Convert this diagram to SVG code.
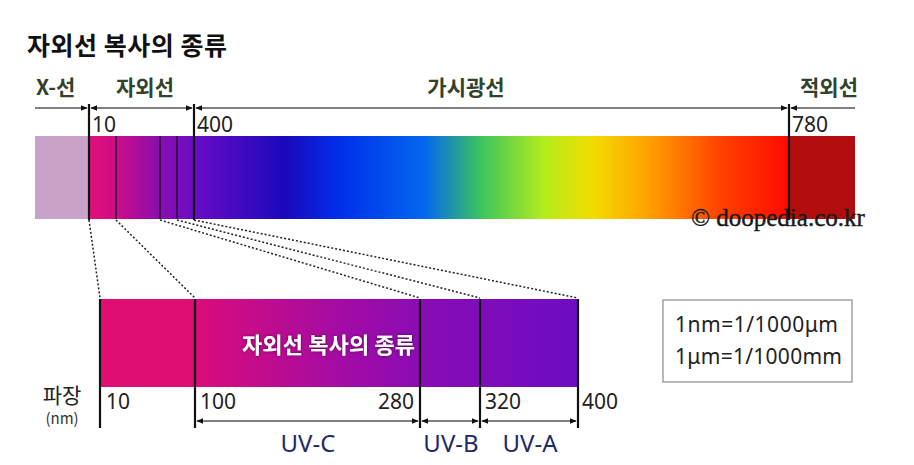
<svg xmlns="http://www.w3.org/2000/svg" width="914" height="465" viewBox="0 0 914 465">
<defs>
<style>
.kr{font-family:"Noto Sans CJK KR","Noto Sans",sans-serif}
.num{font-family:"Noto Sans","Noto Sans CJK KR",sans-serif;font-size:21px;fill:#222}
.band{font-family:"Noto Sans CJK KR",sans-serif;font-size:21px;font-weight:bold;fill:#33422a}
.uv{font-family:"Noto Sans","Noto Sans CJK KR",sans-serif;font-size:24px;fill:#1d2a66}
.tick{stroke:#111;stroke-width:2.2}
.thin{stroke:#2a0a30;stroke-width:1.5}
.dash{stroke:#222;stroke-width:1.5;stroke-dasharray:2 2;fill:none}
.arr{stroke:#555;stroke-width:1.6;fill:none;marker-start:url(#ah);marker-end:url(#ah)}
.arr1{stroke:#555;stroke-width:1.6;fill:none;marker-end:url(#ah)}
</style>
<marker id="ah" viewBox="0 0 10 10" refX="9" refY="5" markerWidth="7" markerHeight="7" orient="auto-start-reverse" markerUnits="userSpaceOnUse">
<path d="M0,1 L10,5 L0,9 z" fill="#111"/>
</marker>
<linearGradient id="spec" x1="89" y1="0" x2="789" y2="0" gradientUnits="userSpaceOnUse">
<stop offset="0" stop-color="#e20f78"/>
<stop offset="0.04" stop-color="#cc0d8a"/>
<stop offset="0.1" stop-color="#8a0eae"/>
<stop offset="0.15" stop-color="#6a0cc6"/>
<stop offset="0.28" stop-color="#1a08bc"/>
<stop offset="0.36" stop-color="#0030ec"/>
<stop offset="0.48" stop-color="#0468ee"/>
<stop offset="0.56" stop-color="#3cc45e"/>
<stop offset="0.65" stop-color="#b4ec1c"/>
<stop offset="0.72" stop-color="#f2dc00"/>
<stop offset="0.8" stop-color="#ffa000"/>
<stop offset="0.9" stop-color="#ff4200"/>
<stop offset="1" stop-color="#ff0a00"/>
</linearGradient>
<linearGradient id="uvg" x1="100" y1="0" x2="578" y2="0" gradientUnits="userSpaceOnUse">
<stop offset="0" stop-color="#e20c72"/>
<stop offset="0.2" stop-color="#da0c7a"/>
<stop offset="0.5" stop-color="#a40ca4"/>
<stop offset="0.67" stop-color="#8a0cb4"/>
<stop offset="1" stop-color="#6c0cc4"/>
</linearGradient>
<filter id="sh" x="-10%" y="-30%" width="120%" height="160%">
<feDropShadow dx="0" dy="0" stdDeviation="1.5" flood-color="#400030" flood-opacity="0.8"/>
</filter>
</defs>
<rect width="914" height="465" fill="#fff"/>

<g id="title">
<text x="27" y="55" class="kr" font-size="25" font-weight="bold" fill="#111" textLength="200" lengthAdjust="spacing">자외선 복사의 종류</text>
</g>

<g id="band-labels">
<text x="36" y="95" class="band">X-선</text>
<text x="145" y="95" class="band" text-anchor="middle">자외선</text>
<text x="466" y="95" class="band" text-anchor="middle">가시광선</text>
<text x="829" y="95" class="band" text-anchor="middle">적외선</text>
</g>

<g id="spectrum">
<rect x="35" y="136" width="54" height="83" fill="#c8a2c8"/>
<rect x="89" y="136" width="700" height="83" fill="url(#spec)"/>
<rect x="789" y="136" width="66" height="83" fill="#b20e10"/>
<line x1="116" y1="136" x2="116" y2="219" class="thin"/>
<line x1="160" y1="136" x2="160" y2="219" class="thin"/>
<line x1="177" y1="136" x2="177" y2="219" class="thin"/>
<line x1="89" y1="104" x2="89" y2="220" class="tick"/>
<line x1="194" y1="104" x2="194" y2="220" class="tick"/>
<line x1="789" y1="104" x2="789" y2="220" class="tick"/>
<text x="92" y="132" class="num">10</text>
<text x="197" y="132" class="num">400</text>
<text x="792" y="132" class="num">780</text>
<text x="691" y="226" font-family="'Liberation Serif','DejaVu Serif',serif" font-size="25" fill="#1a1a1a" stroke="#1a1a1a" stroke-width="0.4">© doopedia.co.kr</text>
</g>

<g id="connectors">
<line x1="35" y1="108" x2="87" y2="108" class="arr1"/>
<line x1="91" y1="108" x2="192" y2="108" class="arr"/>
<line x1="196" y1="108" x2="787" y2="108" class="arr"/>
<line x1="791" y1="108" x2="855" y2="108" stroke="#555" stroke-width="1.6" marker-start="url(#ah)"/>
<line x1="89" y1="220" x2="100" y2="298" class="dash"/>
<line x1="116" y1="220" x2="195" y2="298" class="dash"/>
<line x1="160" y1="220" x2="420" y2="298" class="dash"/>
<line x1="177" y1="220" x2="480" y2="298" class="dash"/>
<line x1="194" y1="220" x2="578" y2="298" class="dash"/>
<line x1="197" y1="421" x2="418" y2="421" class="arr"/>
<line x1="422" y1="421" x2="478" y2="421" class="arr"/>
<line x1="482" y1="421" x2="576" y2="421" class="arr"/>
</g>

<g id="uv-bar">
<rect x="100" y="299" width="478" height="88" fill="url(#uvg)"/>
<rect x="100" y="299" width="95" height="88" fill="#e00e72"/>
<line x1="100" y1="299" x2="100" y2="428" class="tick"/>
<line x1="195" y1="299" x2="195" y2="428" class="tick"/>
<line x1="420" y1="299" x2="420" y2="428" class="tick"/>
<line x1="480" y1="299" x2="480" y2="428" class="tick"/>
<line x1="578" y1="299" x2="578" y2="428" class="tick"/>
<text x="242" y="353" class="kr" font-size="22" font-weight="bold" fill="#fff" filter="url(#sh)" textLength="173" lengthAdjust="spacing">자외선 복사의 종류</text>
<text x="106" y="409" class="num">10</text>
<text x="200" y="409" class="num">100</text>
<text x="414" y="409" class="num" text-anchor="end">280</text>
<text x="485" y="409" class="num">320</text>
<text x="582" y="409" class="num">400</text>
</g>

<g id="axis-label">
<text x="62" y="403" class="kr" font-size="21" fill="#222" text-anchor="middle">파장</text>
<text x="62" y="424" class="kr" font-size="15" fill="#333" text-anchor="middle">(nm)</text>
</g>

<g id="uv-labels">
<text x="308" y="452" class="uv" text-anchor="middle">UV-C</text>
<text x="451" y="452" class="uv" text-anchor="middle">UV-B</text>
<text x="530" y="452" class="uv" text-anchor="middle">UV-A</text>
</g>

<g id="unit-box">
<rect x="663" y="300" width="189" height="82" fill="#fff" stroke="#8a8a8a" stroke-width="1.2"/>
<text x="675" y="332" class="num" font-size="21" textLength="163" lengthAdjust="spacing">1nm=1/1000μm</text>
<text x="675" y="364" class="num" font-size="21" textLength="167" lengthAdjust="spacing">1μm=1/1000mm</text>
</g>
</svg>
